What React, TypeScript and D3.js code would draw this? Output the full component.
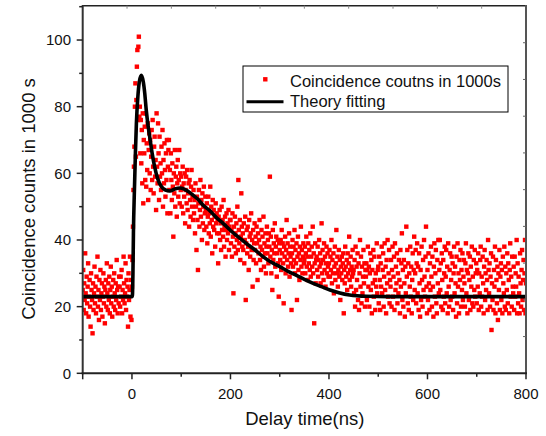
import React from "react";
import * as d3 from "d3";

// ---------- data ----------
const timeStart = -100; // ns, first bin
const binWidth = 1; // ns per bin

const counts: number[] = [
  // -100 .. -76
  25, 31, 19, 27, 22, 36, 24, 18, 29, 21, 26, 33, 17, 23, 28, 20, 14, 30, 25, 22, 12, 27, 19, 24, 32,
  // -75 .. -51
  21, 26, 18, 29, 23, 35, 20, 25, 16, 28, 22, 31, 19, 24, 27, 17, 23, 30, 21, 26, 15, 25, 28, 20, 33,
  // -50 .. -26
  24, 19, 27, 22, 29, 18, 25, 32, 21, 26, 17, 23, 28, 20, 30, 24, 19, 27, 22, 34, 25, 18, 26, 21, 29,
  // -25 .. -1
  26, 20, 29, 23, 31, 18, 25, 22, 35, 27, 21, 24, 33, 19, 28, 23, 26, 14, 30, 22, 25, 35, 17, 28, 16,
  // 0 .. 24
  26, 34, 44, 55, 62, 68, 80, 87, 65, 82, 92, 97, 76, 98, 101, 77, 80, 66, 76, 63, 73, 57, 78, 51, 70,
  // 25 .. 49
  66, 74, 58, 78, 56, 69, 61, 75, 52, 67, 72, 60, 70, 55, 65, 73, 58, 76, 62, 54, 68, 71, 59, 64, 49,
  // 50 .. 74
  78, 62, 57, 75, 66, 52, 71, 59, 63, 55, 68, 60, 73, 50, 64, 57, 69, 61, 53, 66, 58, 70, 48, 62, 67,
  // 75 .. 99
  70, 55, 61, 48, 66, 58, 52, 63, 56, 41, 60, 54, 67, 50, 59, 62, 47, 57, 64, 53, 58, 67, 51, 60, 55,
  // 100 .. 124
  59, 50, 56, 62, 48, 57, 53, 60, 45, 55, 59, 51, 61, 49, 54, 57, 44, 58, 52, 47, 56, 61, 50, 53, 46,
  // 125 .. 149
  55, 48, 52, 42, 57, 50, 37, 53, 46, 31, 51, 55, 44, 49, 58, 47, 52, 40, 54, 45, 50, 56, 43, 48, 53,
  // 150 .. 174
  49, 44, 51, 39, 47, 53, 42, 48, 45, 56, 41, 50, 46, 36, 52, 44, 49, 43, 47, 38, 51, 45, 48, 42, 46,
  // 175 .. 199
  33, 47, 42, 49, 40, 45, 37, 50, 43, 46, 41, 52, 38, 44, 47, 35, 43, 48, 40, 45, 42, 49, 37, 44, 46,
  // 200 .. 224
  46, 39, 43, 35, 48, 41, 24, 44, 38, 47, 42, 36, 45, 40, 50, 37, 58, 43, 39, 46, 34, 41, 54, 44, 38,
  // 225 .. 249
  42, 37, 45, 33, 40, 47, 22, 39, 43, 36, 44, 38, 31, 46, 41, 35, 42, 48, 37, 40, 26, 43, 34, 39, 45,
  // 250 .. 274
  37, 41, 33, 44, 39, 28, 42, 36, 40, 46, 34, 38, 31, 43, 37, 41, 35, 47, 32, 39, 36, 42, 30, 38, 44,
  // 275 .. 299
  36, 40, 33, 42, 38, 59, 35, 41, 30, 37, 25, 43, 34, 39, 36, 45, 32, 38, 41, 29, 36, 40, 33, 23, 39,
  // 300 .. 324
  37, 34, 40, 31, 43, 36, 39, 33, 21, 38, 35, 41, 30, 37, 46, 34, 39, 32, 36, 42, 29, 38, 35, 33, 19,
  // 325 .. 349
  36, 40, 32, 38, 34, 43, 30, 37, 33, 39, 22, 35, 41, 31, 36, 28, 38, 34, 44, 32, 37, 30, 35, 39, 33,
  // 350 .. 374
  34, 38, 30, 36, 41, 32, 35, 28, 39, 33, 37, 31, 42, 29, 35, 38, 32, 44, 30, 36, 15, 33, 39, 27, 34,
  // 375 .. 399
  35, 31, 38, 29, 34, 40, 32, 36, 27, 33, 45, 30, 37, 34, 28, 39, 31, 35, 26, 33, 38, 30, 36, 32, 29,
  // 400 .. 424
  33, 37, 29, 35, 31, 40, 27, 34, 30, 36, 24, 32, 38, 28, 33, 43, 30, 35, 26, 31, 37, 29, 34, 22, 32,
  // 425 .. 449
  30, 35, 28, 33, 36, 18, 31, 27, 38, 32, 29, 34, 25, 36, 30, 33, 41, 28, 31, 35, 26, 32, 29, 37, 30,
  // 450 .. 474
  31, 24, 34, 20, 38, 25, 32, 28, 36, 22, 33, 19, 30, 40, 26, 35, 21, 32, 24, 29, 37, 27, 33, 20, 31,
  // 475 .. 499
  29, 33, 22, 31, 38, 26, 32, 20, 30, 36, 25, 34, 18, 31, 27, 37, 23, 35, 28, 19, 30, 26, 39, 24, 31,
  // 500 .. 524
  32, 21, 35, 28, 19, 33, 26, 38, 24, 31, 36, 20, 29, 39, 25, 32, 18, 34, 27, 40, 23, 30, 37, 21, 28,
  // 525 .. 549
  26, 34, 20, 31, 38, 23, 29, 35, 19, 39, 25, 32, 27, 36, 21, 30, 24, 34, 28, 18, 37, 26, 33, 42, 22,
  // 550 .. 574
  31, 20, 34, 27, 17, 32, 24, 44, 29, 37, 21, 33, 19, 30, 26, 38, 23, 32, 18, 28, 36, 22, 31, 41, 25,
  // 575 .. 599
  30, 37, 21, 33, 39, 24, 32, 19, 36, 27, 17, 31, 22, 38, 28, 20, 34, 25, 40, 29, 23, 35, 44, 26, 18,
  // 600 .. 624
  31, 22, 36, 27, 19, 33, 25, 38, 29, 20, 35, 26, 17, 32, 39, 23, 30, 37, 21, 18, 34, 27, 40, 24, 31,
  // 625 .. 649
  40, 25, 33, 20, 36, 28, 19, 34, 23, 30, 38, 21, 29, 37, 24, 32, 18, 39, 26, 20, 31, 36, 22, 28, 35,
  // 650 .. 674
  23, 33, 19, 30, 38, 24, 32, 27, 17, 35, 21, 39, 26, 30, 18, 34, 28, 37, 20, 31, 25, 36, 22, 29, 34,
  // 675 .. 699
  27, 20, 33, 39, 24, 31, 18, 30, 36, 22, 28, 35, 19, 32, 26, 38, 21, 29, 20, 34, 25, 37, 23, 30, 33,
  // 700 .. 724
  21, 31, 26, 36, 19, 30, 24, 34, 38, 20, 29, 23, 35, 27, 18, 32, 37, 22, 30, 25, 34, 28, 19, 40, 31,
  // 725 .. 749
  24, 33, 20, 29, 36, 13, 27, 22, 35, 19, 31, 26, 38, 18, 34, 28, 21, 32, 16, 30, 25, 37, 19, 29, 33,
  // 750 .. 774
  22, 31, 18, 35, 27, 24, 38, 20, 32, 19, 30, 25, 36, 21, 33, 28, 18, 31, 39, 23, 29, 20, 35, 26, 24,
  // 775 .. 800
  32, 19, 35, 23, 30, 26, 40, 18, 33, 21, 29, 24, 18, 36, 27, 20, 31, 37, 22, 28, 34, 19, 30, 40, 18, 27,
];

// theory fitting curve
const fitTimes = [
  -100, 0, 1, 2, 3, 5, 7, 9, 12, 15, 19, 23, 26, 29, 33, 36, 41, 46, 52, 60, 68, 77, 87, 97, 107, 117,
  125, 134, 144, 158, 171, 185, 199, 215, 232, 250, 266, 283, 300, 317, 334, 350, 368, 385, 402, 420,
  442, 476, 520, 800,
];
const fitCounts = [
  23, 23, 23.5, 30, 42, 55, 66, 75, 83, 87.5, 89.4, 87.5, 84, 79, 74, 71, 66, 62, 58.5, 56, 55, 54.7,
  55.3, 55.6, 55.2, 54.3, 53.3, 52.2, 50.5, 48.8, 46.8, 45, 43, 41, 39, 37, 35, 33.3, 32, 30.6, 29.4,
  28.2, 27, 26, 25, 24.2, 23.5, 23.1, 23, 23,
];

const xTickLabels = [0, 200, 400, 600, 800];
const yTickLabels = [0, 20, 40, 60, 80, 100];
const xDomain = [-100, 800];
const yDomain = [0, 110];

const legendLabels = ["Coincidence coutns in 1000s", "Theory fitting"];
const xTitle = "Delay time(ns)";
const yTitle = "Coincidence counts in 1000 s";

// ---------- layout ----------
const W = 546;
const H = 436;
const L = 82.7;
const R = 526;
const T = 6.7;
const B = 373.3;
const FONT = "'Liberation Sans', Arial, Helvetica, sans-serif";

export default function App() {
  const x = d3.scaleLinear().domain(xDomain).range([L, R]);
  const y = d3.scaleLinear().domain(yDomain).range([B, T]);

  const points = counts.map((c, i) => ({ t: timeStart + i * binWidth, c }));
  const fit = fitTimes.map((t, i) => [t, fitCounts[i]] as [number, number]);
  const line = d3
    .line<[number, number]>()
    .x((d) => x(d[0]))
    .y((d) => y(d[1]))
    .curve(d3.curveMonotoneX);

  const xMinor = d3.range(-100, 801, 100).filter((v) => !xTickLabels.includes(v));
  const yMinor = d3.range(10, 111, 20);
  const rightScale = d3.scaleLinear().domain([0, 100]).range([B, T - 0.7]);
  const rightTicks = d3.range(10, 100, 10);
  const topScale = d3.scaleLinear().domain([0, 10]).range([L, R]);
  const topTicks = d3.range(1, 10);

  const ms = 4.4;

  return (
    <svg
      width={W}
      height={H}
      style={{ position: "absolute", left: 0, top: 0, background: "#fff" }}
      fontFamily={FONT}
    >
      <defs>
        <clipPath id="plotClip">
          <rect x={L} y={T - 2} width={R - L} height={B - T + 2} />
        </clipPath>
      </defs>
      <rect x={0} y={0} width={W} height={H} fill="#fff" />

      <g clipPath="url(#plotClip)">
        {points.map((p, i) => (
          <rect
            key={i}
            x={x(p.t) - ms / 2}
            y={y(p.c) - ms / 2}
            width={ms}
            height={ms}
            fill="#ff0000"
          />
        ))}
        <path d={line(fit) || ""} fill="none" stroke="#000" strokeWidth={3.6} strokeLinejoin="round" />
      </g>

      {/* frame */}
      <line x1={L} y1={T - 1} x2={R} y2={T - 1} stroke="#222" strokeWidth={1.5} />
      <line x1={R} y1={T - 1.7} x2={R} y2={B} stroke="#555" strokeWidth={2} />
      <line x1={L} y1={T - 1.7} x2={L} y2={B + 1} stroke="#333" strokeWidth={2} />
      <line x1={L - 1} y1={B} x2={R + 1} y2={B} stroke="#222" strokeWidth={2} />

      {/* right and top inner ticks */}
      {rightTicks.map((v) => (
        <line key={"r" + v} x1={R - 3} x2={R} y1={rightScale(v)} y2={rightScale(v)} stroke="#666" strokeWidth={1} />
      ))}
      {topTicks.map((v) => (
        <line key={"t" + v} x1={topScale(v)} x2={topScale(v)} y1={T - 1} y2={T + 2} stroke="#888" strokeWidth={1} />
      ))}

      {/* x ticks */}
      {xTickLabels.concat([-100]).map((v) => (
        <line key={"xm" + v} x1={x(v)} x2={x(v)} y1={B} y2={B + 6} stroke="#222" strokeWidth={1.5} />
      ))}
      {xMinor
        .filter((v) => v !== -100)
        .map((v) => (
          <line key={"xn" + v} x1={x(v)} x2={x(v)} y1={B} y2={B + 3.5} stroke="#222" strokeWidth={1.5} />
        ))}
      {xTickLabels.map((v) => (
        <text key={"xl" + v} x={x(v)} y={399} textAnchor="middle" fontSize={15} fill="#111">
          {v}
        </text>
      ))}

      {/* y ticks */}
      {yTickLabels.map((v) => (
        <line key={"ym" + v} x1={L - 6} x2={L} y1={y(v)} y2={y(v)} stroke="#222" strokeWidth={1.5} />
      ))}
      {yMinor.map((v) => (
        <line key={"yn" + v} x1={L - 3.5} x2={L} y1={y(v)} y2={y(v)} stroke="#222" strokeWidth={1.5} />
      ))}
      {yTickLabels.map((v) => (
        <text key={"yl" + v} x={71} y={y(v) + 5.3} textAnchor="end" fontSize={15} fill="#111">
          {v}
        </text>
      ))}

      {/* axis titles */}
      <text x={(L + R) / 2 + 0.5} y={425} textAnchor="middle" fontSize={18.5} fill="#111">
        {xTitle}
      </text>
      <text
        transform={`translate(34.5, ${199}) rotate(-90)`}
        textAnchor="middle"
        fontSize={18.5}
        fill="#111"
      >
        {yTitle}
      </text>

      {/* legend */}
      <rect x={243} y={66} width={265} height={46} fill="#fff" stroke="#000" strokeWidth={1} />
      <rect x={265.3 - 2.2} y={79.3 - 2.2} width={4.4} height={4.4} fill="#ff0000" />
      <line x1={246.5} x2={283.5} y1={101.7} y2={101.7} stroke="#000" strokeWidth={3} />
      <text x={290} y={86.7} fontSize={16.5} fill="#111">
        {legendLabels[0]}
      </text>
      <text x={290} y={106.7} fontSize={16.5} fill="#111">
        {legendLabels[1]}
      </text>
    </svg>
  );
}
